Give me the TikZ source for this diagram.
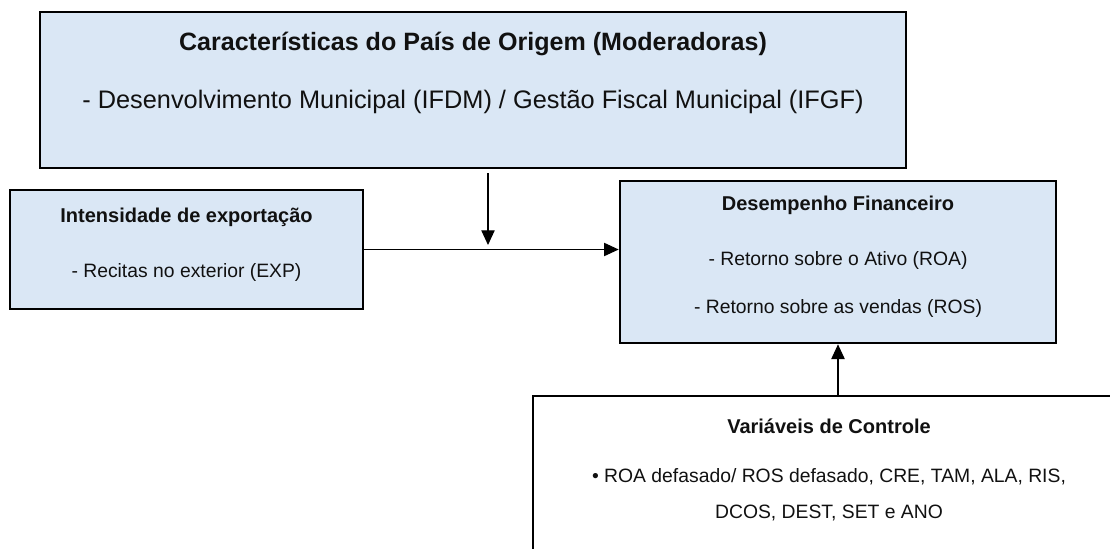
\documentclass[tikz,border=0pt]{standalone}
\usepackage{fontspec}
\setmainfont{Liberation Sans}
\usetikzlibrary{arrows.meta}
\definecolor{azulcaixa}{HTML}{DAE7F5}
\definecolor{tinta}{HTML}{111111}
\tikzset{
	caixa/.style = {draw = black, line width = 2pt, fill = azulcaixa, inner sep = 0pt},
	titulo/.style = {font = \fontsize{15}{18}\selectfont\bfseries, text = tinta, inner sep = 0pt, anchor = base},
	texto/.style = {font = \fontsize{14.5}{17}\selectfont, text = tinta, inner sep = 0pt, anchor = base},
	seta/.style = {line width = 0.8pt, -{Triangle[length = 11pt, width = 10pt]}}
}
\begin{document}
\begin{tikzpicture}[x = 0.75pt, y = -0.75pt]
		\clip ( 0, 0 ) rectangle ( 1110, 549 );

		% moderadoras
		\node [caixa, minimum width = 649.5pt, minimum height = 117pt] (moder) at ( 473, 90 ) {};
		\node [titulo, font = \fontsize{18.8}{22}\selectfont\bfseries] (moderT) at ( 473, 51 ) {Características do País de Origem (Moderadoras)};
		\node [texto, font = \fontsize{19}{22}\selectfont] (moderA) at ( 473, 109 ) {- Desenvolvimento Municipal (IFDM) / Gestão Fiscal Municipal (IFGF)};

		% exportacao
		\node [caixa, minimum width = 264.75pt, minimum height = 89.25pt] (expo) at ( 186.5, 249.5 ) {};
		\node [titulo] (expoT) at ( 186.5, 223 ) {Intensidade de exportação};
		\node [texto] (expoA) at ( 186.5, 277 ) {- Recitas no exterior (EXP)};

		% desempenho
		\node [caixa, minimum width = 327pt, minimum height = 121.5pt] (desemp) at ( 838, 262 ) {};
		\node [titulo] (desempT) at ( 838, 210 ) {Desempenho Financeiro};
		\node [texto] (desempA) at ( 838, 265 ) {- Retorno sobre o Ativo (ROA)};
		\node [texto] (desempB) at ( 838, 313 ) {- Retorno sobre as vendas (ROS)};

		% controle
		\node [caixa, fill = white, minimum width = 457.5pt, minimum height = 168pt] (ctrl) at ( 838, 508 ) {};
		\node [titulo] (ctrlT) at ( 829, 433 ) {Variáveis de Controle};
		\node [texto] (ctrlA) at ( 829, 482 ) {• ROA defasado/ ROS defasado, CRE, TAM, ALA, RIS,};
		\node [texto] (ctrlB) at ( 829, 518 ) {DCOS, DEST, SET e ANO};

		% setas
		\coordinate (moderPonta) at ( 488, 245 );
		\draw [seta, shorten <= 3pt] (moder.south -| moderPonta) -- (moderPonta);
		\draw [seta] (expo.east) -- (expo.east -| desemp.west);
		\draw [seta] (ctrl.north) -- (desemp.south);
	\end{tikzpicture}
\end{document}
